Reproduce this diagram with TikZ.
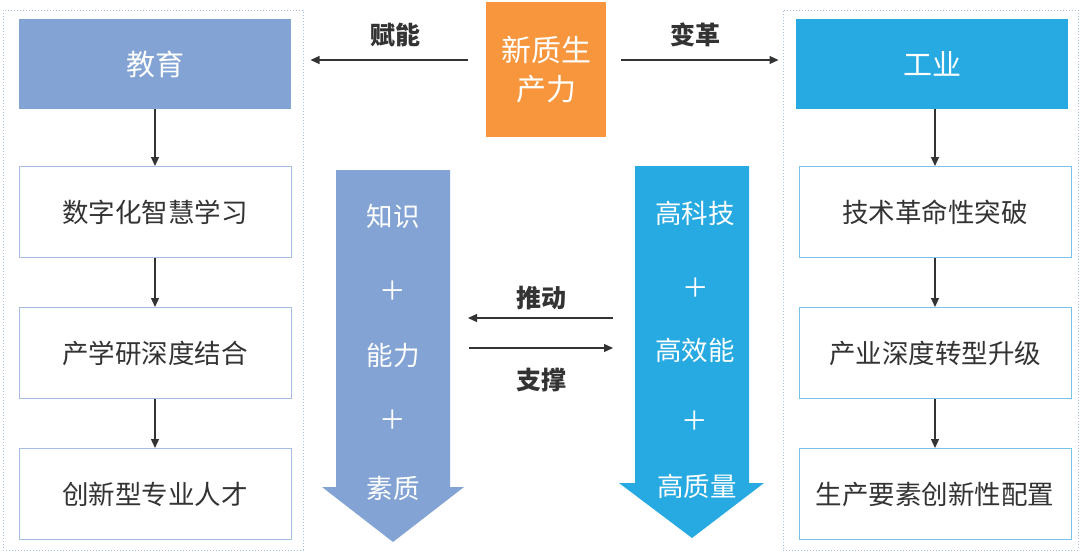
\documentclass[tikz,border=0pt]{standalone}
\usepackage{fontspec}
\setmainfont{Noto Sans CJK SC}
\usetikzlibrary{arrows.meta}
\definecolor{eduBlue}{HTML}{82A3D3}
\definecolor{indBlue}{HTML}{27A9E1}
\definecolor{orng}{HTML}{F7963D}
\definecolor{eduLine}{HTML}{A8BDE3}
\definecolor{indLine}{HTML}{78C3EA}
\definecolor{dotLine}{HTML}{A9BEDD}
\definecolor{txt}{HTML}{333333}
\tikzset{
  head/.style={inner sep=0pt, minimum width=272pt, minimum height=90pt, text=white, font=\fontsize{29}{34}\selectfont},
  eduhead/.style={head, fill=eduBlue},
  indhead/.style={head, fill=indBlue},
  stepbox/.style={inner sep=0pt, minimum width=272pt, minimum height=91pt, fill=white, text=txt, line width=1pt, font=\fontsize{26.5}{31}\selectfont},
  edubox/.style={stepbox, draw=eduLine},
  indbox/.style={stepbox, draw=indLine},
  container/.style={draw=dotLine, dotted, line width=1pt, inner sep=0pt},
  conn/.style={draw=txt, line width=1.3pt, -{Triangle[length=9pt,width=8pt]}},
  lbl/.style={text=txt, font=\fontsize{25}{30}\selectfont\bfseries},
  intxt/.style={text=white, font=\fontsize{26.5}{31}\selectfont},
}
\begin{document}
\begin{tikzpicture}[x=1pt,y=-1pt]
\useasboundingbox (0,0) rectangle (1080,552);
% containers
\node[container, minimum width=300pt, minimum height=540pt] (leftC) at (153,280) {};
\node[container, minimum width=295pt, minimum height=540pt] (rightC) at (930.5,280) {};
% education column
\node[eduhead] (eduH) at (155,64) {教育};
\node[edubox] (edu1) at (155,212) {数字化智慧学习};
\node[edubox] (edu2) at (155,353) {产学研深度结合};
\node[edubox] (edu3) at (155,494) {创新型专业人才};
\draw[conn] (eduH) -- (edu1);
\draw[conn] (edu1) -- (edu2);
\draw[conn] (edu2) -- (edu3);
% industry column
\node[indhead] (indH) at (932,64) {工业};
\node[indbox] (ind1) at (935,212) {技术革命性突破};
\node[indbox] (ind2) at (935,353) {产业深度转型升级};
\node[indbox] (ind3) at (935,494) {生产要素创新性配置};
\draw[conn] (ind1.north |- indH.south) -- (ind1);
\draw[conn] (ind1) -- (ind2);
\draw[conn] (ind2) -- (ind3);
% centre
\node[fill=orng, minimum width=120pt, minimum height=135pt, inner sep=0pt, text=white, align=center,
      font=\fontsize{30}{39}\selectfont] (npf) at (546,69.5) {新质生\\产力};
\draw[conn, shorten <=18pt, shorten >=7pt] (npf.west |- 0,60) -- (leftC.east |- 0,60);
\draw[conn, shorten <=15pt, shorten >=4pt] (npf.east |- 0,60) -- (rightC.west |- 0,60);
\node[lbl] (lblA) at (395,35) {赋能};
\node[lbl] (lblB) at (695,35) {变革};
% big arrows
\fill[eduBlue] (336,170) -- (450,170) -- (450,487) -- (464,487) -- (393,542) -- (322,487) -- (336,487) -- cycle;
\fill[indBlue] (635,166) -- (749,166) -- (749,483) -- (764,483) -- (692,538) -- (619,483) -- (635,483) -- cycle;
\node[intxt] (k1) at (393,216) {知识};
\node[intxt] (k2) at (393,291) {＋};
\node[intxt] (k3) at (393,355) {能力};
\node[intxt] (k4) at (393,420) {＋};
\node[intxt] (k5) at (393,488) {素质};
\node[intxt] (h1) at (695,213) {高科技};
\node[intxt] (h2) at (696,288) {＋};
\node[intxt] (h3) at (695,350) {高效能};
\node[intxt] (h4) at (695,421) {＋};
\node[intxt] (h5) at (697,486) {高质量};
% push / support
\coordinate (pA) at (613,318);
\coordinate (pB) at (468,318);
\coordinate (sA) at (469,348);
\coordinate (sB) at (613,348);
\draw[conn] (pA) -- (pB);
\draw[conn] (sA) -- (sB);
\node[lbl] (lblC) at (541,298) {推动};
\node[lbl] (lblD) at (541,380) {支撑};
\end{tikzpicture}
\end{document}
